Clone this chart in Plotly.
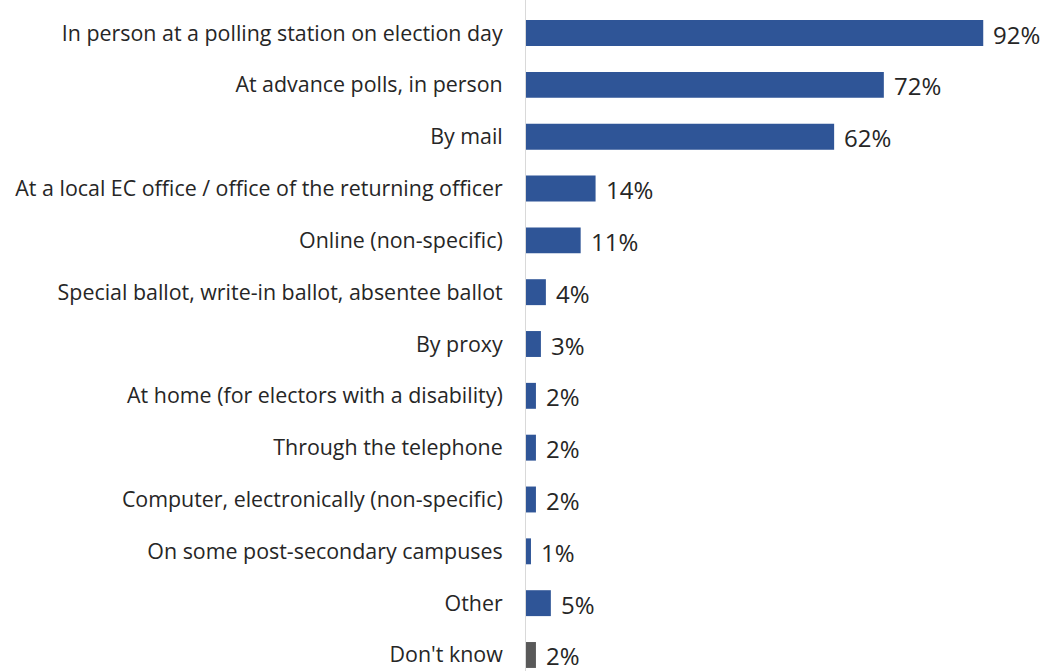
import plotly.graph_objects as go

categories = [
    "In person at a polling station on election day",
    "At advance polls, in person",
    "By mail",
    "At a local EC office / office of the returning officer",
    "Online (non-specific)",
    "Special ballot, write-in ballot, absentee ballot",
    "By proxy",
    "At home (for electors with a disability)",
    "Through the telephone",
    "Computer, electronically (non-specific)",
    "On some post-secondary campuses",
    "Other",
    "Don't know",
]
values = [92, 72, 62, 14, 11, 4, 3, 2, 2, 2, 1, 5, 2]
value_labels = [f"{v}%" for v in values]

BLUE = "#2F5597"
GREY = "#595959"
TEXT = "#262626"
FONT = "Open Sans"
colors = [GREY if c == "Don't know" else BLUE for c in categories]

fig = go.Figure(
    go.Bar(
        x=values,
        y=categories,
        orientation="h",
        marker=dict(color=colors, line=dict(width=0)),
        width=0.5,
        hoverinfo="x+y",
    )
)

# value labels placed just past the end of each bar
for cat, v, lab in zip(categories, values, value_labels):
    fig.add_annotation(
        x=v,
        y=cat,
        text=lab,
        showarrow=False,
        xanchor="left",
        yanchor="middle",
        xshift=8,
        yshift=-1,
        font=dict(family=FONT, size=24, color=TEXT),
    )

fig.update_layout(
    width=1044,
    height=671,
    margin=dict(l=526, r=21, t=0, b=0),
    paper_bgcolor="white",
    plot_bgcolor="white",
    showlegend=False,
    font=dict(family=FONT, color=TEXT),
)
fig.update_xaxes(
    range=[0, 100],
    visible=False,
)
fig.update_yaxes(
    range=[12.309, -0.637],
    showline=True,
    linecolor="#D9D9D9",
    linewidth=1,
    showgrid=False,
    ticks="",
    ticklabelstandoff=18,
    tickfont=dict(family=FONT, size=21.4, color=TEXT),
)

fig.write_html("out.html")
